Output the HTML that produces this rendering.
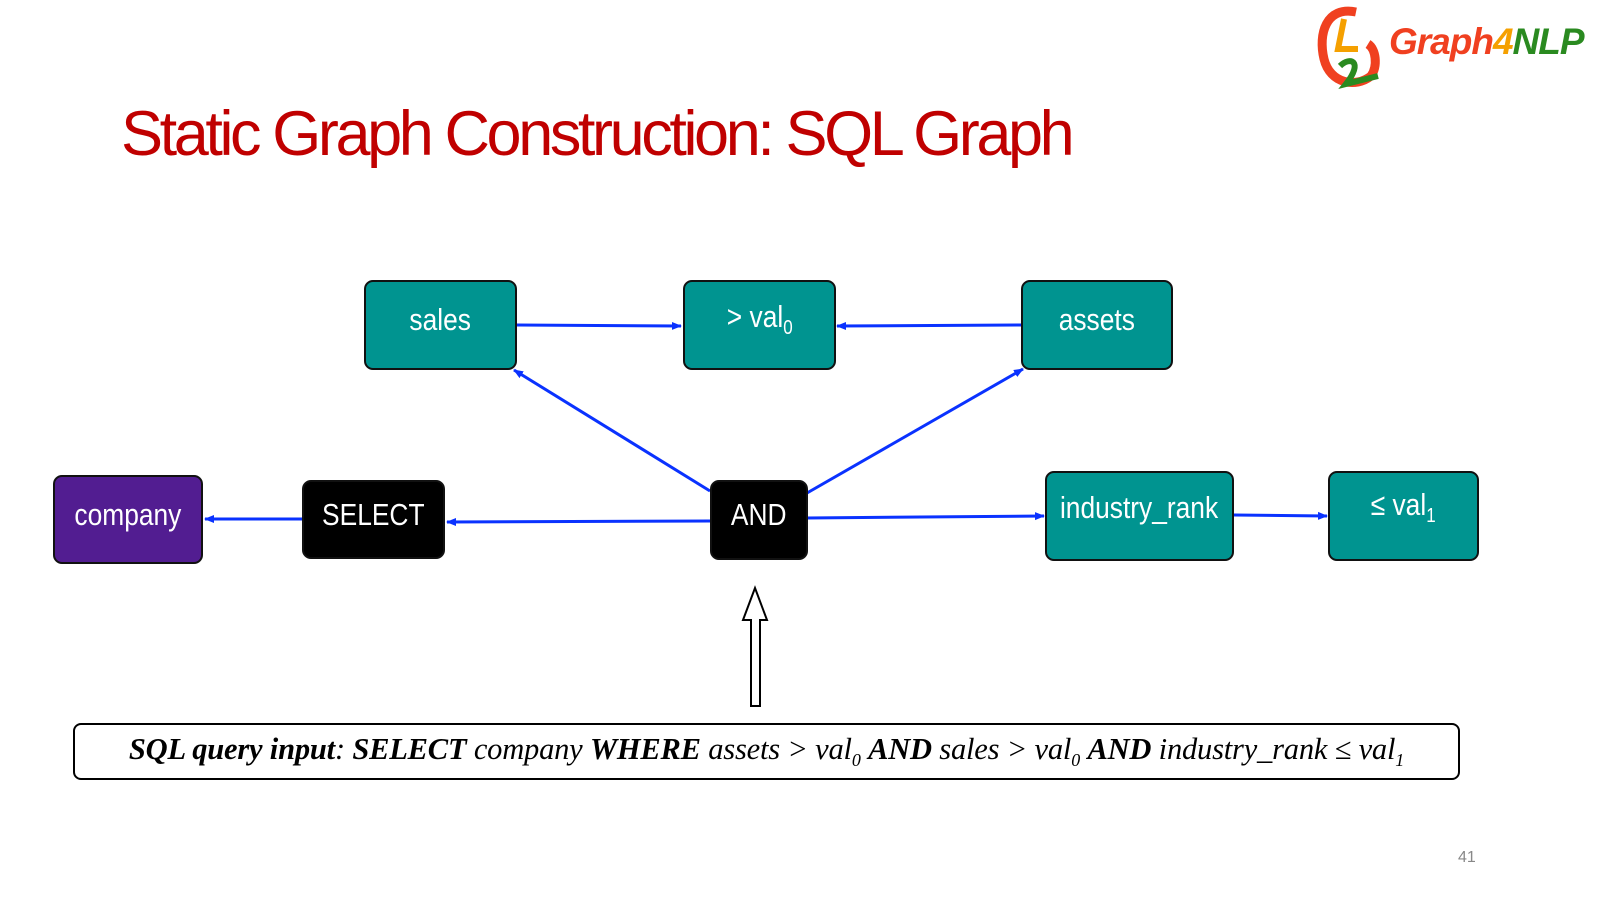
<!DOCTYPE html>
<html><head><meta charset="utf-8"><style>
body{margin:0;width:1600px;height:900px;background:#fff;position:relative;overflow:hidden;font-family:"Liberation Sans",sans-serif}
.n{position:absolute;border:2px solid #111;border-radius:9px;color:#fff;display:flex;align-items:center;justify-content:center;font-size:31px;box-sizing:border-box;padding-bottom:10px}
.n span{display:inline-block;transform:scaleX(.85)}
.t{background:#009490}
.b{background:#000}
</style></head><body>
<div style="position:absolute;left:121px;top:98px;font-size:63px;color:#c00000;letter-spacing:-3.4px;white-space:nowrap">Static Graph Construction: SQL Graph</div>
<div style="position:absolute;left:1316px;top:4px;width:66px;height:90px">
<svg width="66" height="90"><path d="M40 8 C10 2 2 30 8 55 C14 80 40 84 55 72 C62 62 60 45 52 40" fill="none" stroke="#f04020" stroke-width="9"/><path d="M28 15 L22 45 L42 45" fill="none" stroke="#f5a000" stroke-width="6"/><path d="M24 62 C34 52 48 57 30 80 L62 72" fill="none" stroke="#2a8a20" stroke-width="6"/></svg></div>
<div style="position:absolute;left:1389px;top:21px;font-size:37px;font-weight:bold;font-style:italic;letter-spacing:-1px"><span style="color:#f04020">Graph</span><span style="color:#f5a000">4</span><span style="color:#2a8a20">NLP</span></div>
<svg style="position:absolute;left:0;top:0" width="1600" height="900">
<defs><marker id="a" markerWidth="10" markerHeight="10" refX="9" refY="5" orient="auto" markerUnits="userSpaceOnUse"><path d="M0 1 L10 5 L0 9z" fill="#0a32ff"/></marker></defs>
<g stroke="#0a32ff" stroke-width="3" fill="none" marker-end="url(#a)">
<line x1="517" y1="325" x2="681" y2="326"/>
<line x1="1021" y1="325" x2="837" y2="326"/>
<line x1="710" y1="491" x2="514" y2="370"/>
<line x1="807" y1="493" x2="1023" y2="369"/>
<line x1="710" y1="521" x2="447" y2="522"/>
<line x1="302" y1="519" x2="205" y2="519"/>
<line x1="807" y1="518" x2="1044" y2="516"/>
<line x1="1234" y1="515" x2="1327" y2="516"/>
</g>
<path d="M751 706 L760 706 L760 620 L767 620 L755 588 L743 620 L751 620 Z" fill="#fff" stroke="#000" stroke-width="2"/>
</svg>
<div class="n t" style="left:364px;top:280px;width:153px;height:90px"><span>sales</span></div>
<div class="n t" style="left:683px;top:280px;width:153px;height:90px"><span>&gt; val<sub style="font-size:20px">0</sub></span></div>
<div class="n t" style="left:1021px;top:280px;width:152px;height:90px"><span>assets</span></div>
<div class="n" style="left:53px;top:475px;width:150px;height:89px;background:#521d91"><span>company</span></div>
<div class="n b" style="left:302px;top:480px;width:143px;height:79px"><span>SELECT</span></div>
<div class="n b" style="left:710px;top:480px;width:98px;height:80px"><span>AND</span></div>
<div class="n t" style="left:1045px;top:471px;width:189px;height:90px;padding-bottom:16px"><span>industry_rank</span></div>
<div class="n t" style="left:1328px;top:471px;width:151px;height:90px;padding-bottom:16px"><span>≤ val<sub style="font-size:20px">1</sub></span></div>
<div style="position:absolute;left:73px;top:723px;width:1387px;height:57px;border:2px solid #000;border-radius:8px;box-sizing:border-box;display:flex;align-items:center;justify-content:center;font-family:'Liberation Serif',serif;font-style:italic;font-size:30.5px;white-space:nowrap;letter-spacing:-0.2px">
<span><b>SQL query input</b>: <b>SELECT</b> company <b>WHERE</b> assets &gt; val<sub style="font-size:18px">0</sub> <b>AND</b> sales &gt; val<sub style="font-size:18px">0</sub> <b>AND</b> industry_rank ≤ val<sub style="font-size:18px">1</sub></span></div>
<div style="position:absolute;left:1458px;top:849px;font-size:16px;color:#888">41</div>
</body></html>
